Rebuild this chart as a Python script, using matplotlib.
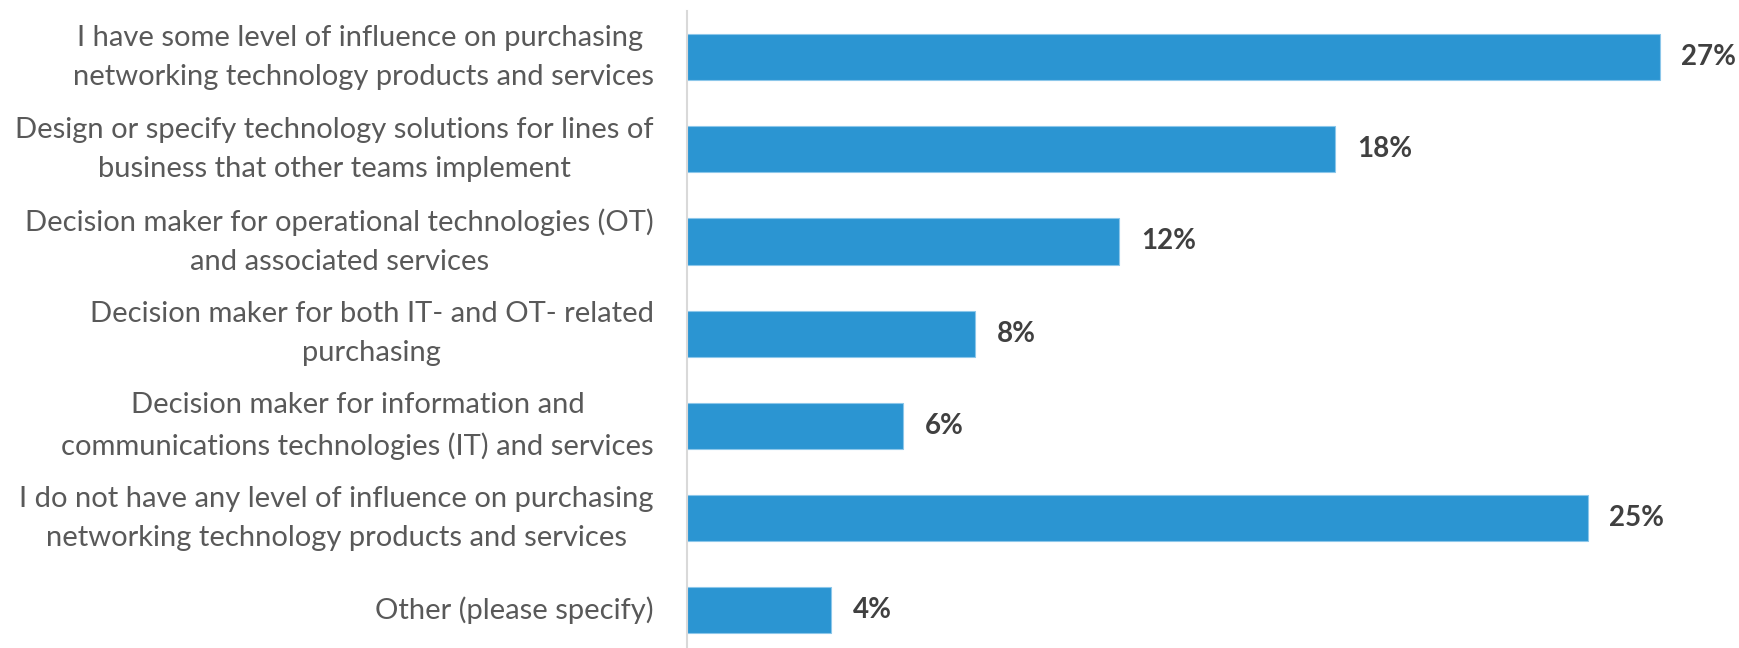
import matplotlib.pyplot as plt
from matplotlib.transforms import ScaledTranslation

plt.rcParams['font.family'] = ['Lato', 'DejaVu Sans']

categories = [
    "I have some level of influence on purchasing \nnetworking technology products and services",
    "Design or specify technology solutions for lines of\nbusiness that other teams implement",
    "Decision maker for operational technologies (OT)\nand associated services",
    "Decision maker for both IT- and OT- related\npurchasing",
    "Decision maker for information and\ncommunications technologies (IT) and services",
    "I do not have any level of influence on purchasing\nnetworking technology products and services",
    "Other (please specify)",
]
values = [27, 18, 12, 8, 6, 25, 4]
value_labels = ["27%", "18%", "12%", "8%", "6%", "25%", "4%"]

bar_color = '#2B95D2'
text_gray = '#595959'
label_dark = '#404040'

fig = plt.figure(figsize=(17.39, 6.48), dpi=100)
ax = fig.add_axes([0.395, 0.0, 0.605, 0.983])

ypos = list(range(len(categories)))
ax.barh(ypos, values, height=0.5, color=bar_color, edgecolor='#8CC7EA', linewidth=0.8)

for y, v, lab in zip(ypos, values, value_labels):
    ax.text(v + 0.6, y, lab, va='center', ha='left', fontsize=20, fontweight='bold',
            color=label_dark, clip_on=False)

# category names, right-aligned a fixed distance left of the axis line
ytrans = ax.get_yaxis_transform()
off = ScaledTranslation(-0.33, 0, fig.dpi_scale_trans)
for y, cat in zip(ypos, categories):
    ax.text(0, y, cat, transform=ytrans + off, ha='right', va='center',
            multialignment='center', fontsize=21, color=text_gray,
            linespacing=1.62, clip_on=False)

ax.set_yticks([])
ax.set_ylim(6.41, -0.5)
ax.set_xlim(0, 29.2)
ax.set_xticks([])

for side in ['top', 'right', 'bottom']:
    ax.spines[side].set_visible(False)
ax.spines['left'].set_color('#D9D9D9')
ax.spines['left'].set_linewidth(1.5)

fig.savefig('out.png', dpi=100)
